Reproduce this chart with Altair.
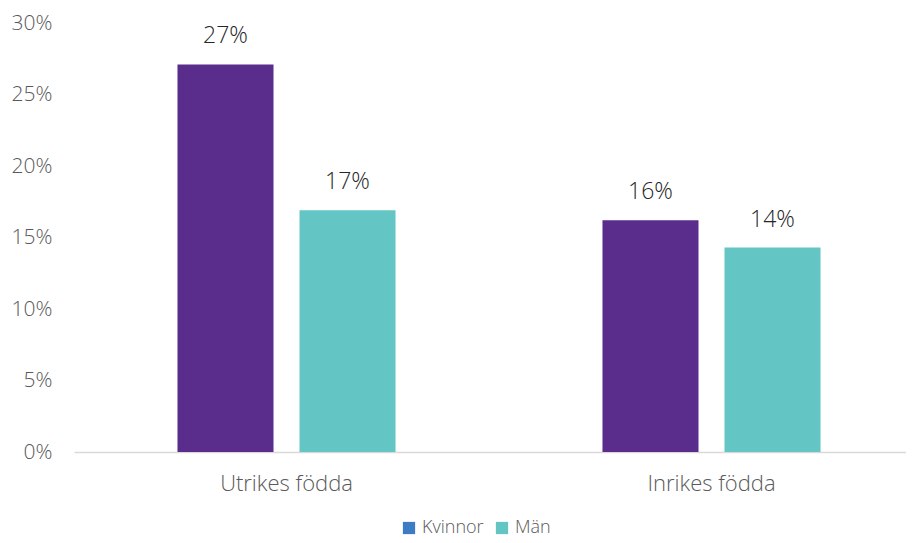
import altair as alt
import pandas as pd

groups = ["Utrikes födda", "Utrikes födda", "Inrikes födda", "Inrikes födda"]
kon = ["Kvinnor", "Män", "Kvinnor", "Män"]
values = [0.271, 0.169, 0.162, 0.143]
group_order = ["Utrikes födda", "Inrikes födda"]
kon_order = ["Kvinnor", "Män"]
bar_colors = ["#5a2d8c", "#63c6c5"]
legend_colors = ["#3f7bc4", "#63c6c5"]

df = pd.DataFrame({"grupp": groups, "kon": kon, "andel": values})

FONT = "Open Sans"
W = 300

x = alt.X("grupp:N", sort=group_order, title=None,
          scale=alt.Scale(paddingInner=0, paddingOuter=0, range=[0, 850]),
          axis=alt.Axis(labelAngle=0, labelFontSize=22, labelColor="#595959",
                        labelFont=FONT, labelFontWeight=W, labelPadding=21, ticks=False,
                        domainColor="#d9d9d9", domainWidth=1.3))
xoff = alt.XOffset("kon:N", sort=kon_order,
                   scale=alt.Scale(paddingInner=0.213, paddingOuter=0.848))
y = alt.Y("andel:Q", title=None,
          scale=alt.Scale(domain=[0, 0.3]),
          axis=alt.Axis(format=".0%", values=[0, 0.05, 0.1, 0.15, 0.2, 0.25, 0.3],
                        grid=False, domain=False, ticks=False, labelFontSize=21,
                        labelColor="#595959", labelFont=FONT, labelFontWeight=W,
                        labelPadding=22))

bars = alt.Chart(df).mark_bar().encode(
    x=x, xOffset=xoff, y=y,
    color=alt.Color("kon:N", sort=kon_order,
                    scale=alt.Scale(domain=kon_order, range=bar_colors), legend=None),
)

labels = alt.Chart(df).mark_text(dy=-28, baseline="middle", fontSize=23,
                                 font=FONT, fontWeight=W, color="#262626").encode(
    x=x, xOffset=xoff, y=y,
    text=alt.Text("andel:Q", format=".0%"),
)

legend_layer = alt.Chart(df).mark_square(opacity=0, size=0).encode(
    x=x, xOffset=xoff, y=y,
    fill=alt.Fill("kon:N", sort=kon_order,
                  scale=alt.Scale(domain=kon_order, range=legend_colors),
                  legend=alt.Legend(title=None, orient="none", direction="horizontal",
                                    legendX=326, legendY=496,
                                    symbolType="square", symbolSize=150,
                                    symbolOpacity=1, symbolStrokeWidth=0,
                                    labelFontSize=18, labelFont=FONT, labelFontWeight=W,
                                    labelColor="#595959", columnPadding=9,
                                    labelOffset=4)),
)

chart = alt.layer(bars, labels, legend_layer).resolve_scale(
    color="independent", fill="independent"
).properties(
    width=832, height=429,
    autosize=alt.AutoSizeParams(type="none"),
    padding={"top": 15, "left": 66, "right": 0, "bottom": 88},
).configure_view(stroke=None)

chart.save("out.html", embed_options={"renderer": "svg", "actions": False})
